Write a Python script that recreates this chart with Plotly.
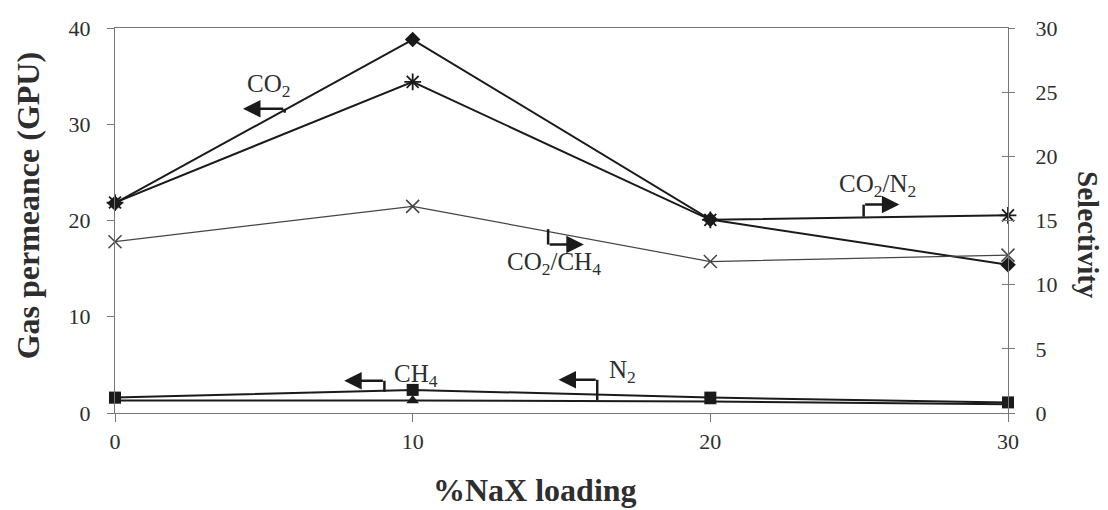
import plotly.graph_objects as go

# NaX loading (%)
loading = [0, 10, 20, 30]

# Gas permeance (GPU), left axis
perm_co2 = [21.8, 38.8, 20.1, 15.4]
perm_ch4 = [1.6, 2.4, 1.6, 1.1]
perm_n2 = [1.3, 1.3, 1.2, 0.9]

# Ideal selectivity, right axis
sel_co2_ch4 = [13.35, 16.1, 11.8, 12.3]
sel_co2_n2 = [16.4, 25.8, 15.05, 15.4]

left_ticks = [0, 10, 20, 30, 40]
right_ticks = [0, 5, 10, 15, 20, 25, 30]
x_ticks = [0, 10, 20, 30]

SERIF = "Liberation Serif, Times New Roman, serif"
INK = "#1a1a1a"
TXT = "#2e2e2e"
AXIS = "#777777"

fig = go.Figure()

fig.add_trace(go.Scatter(
    x=loading, y=perm_co2, name="CO2", mode="lines+markers",
    line=dict(color=INK, width=2),
    marker=dict(symbol="diamond", size=12, color=INK),
    cliponaxis=False))
fig.add_trace(go.Scatter(
    x=loading, y=perm_ch4, name="CH4", mode="lines+markers",
    line=dict(color=INK, width=2),
    marker=dict(symbol="square", size=12, color=INK),
    cliponaxis=False))
fig.add_trace(go.Scatter(
    x=loading, y=perm_n2, name="N2", mode="lines+markers",
    line=dict(color=INK, width=2),
    marker=dict(symbol="triangle-up", size=11, color=INK),
    cliponaxis=False))
fig.add_trace(go.Scatter(
    x=loading, y=sel_co2_ch4, name="CO2/CH4", mode="lines+markers", yaxis="y2",
    line=dict(color="#444444", width=1.2),
    marker=dict(symbol="x-thin-open", size=13, color="#444444",
                line=dict(width=1.5, color="#444444")),
    cliponaxis=False))
fig.add_trace(go.Scatter(
    x=loading, y=sel_co2_n2, name="CO2/N2", mode="lines+markers", yaxis="y2",
    line=dict(color=INK, width=2),
    marker=dict(symbol="asterisk-open", size=14, color=INK,
                line=dict(width=1.8, color=INK)),
    cliponaxis=False))

# Series labels with bent arrows pointing to the axis each series is read on
labels = [
    # text, text x, text y (left-axis units)
    ("CO<sub>2</sub>", 5.15, 34.0),
    ("CO<sub>2</sub>/N<sub>2</sub>", 25.6, 23.6),
    ("CO<sub>2</sub>/CH<sub>4</sub>", 14.75, 15.5),
    ("CH<sub>4</sub>", 10.1, 3.9),
    ("N<sub>2</sub>", 17.05, 4.3),
]
# arrow: stem foot (x, y), elbow y, head x
arrows = [
    (5.7, 31.2, 31.6, 4.3),
    (25.15, 20.4, 21.65, 26.35),
    (14.55, 19.1, 17.5, 15.75),
    (9.05, 2.2, 3.35, 7.7),
    (16.2, 1.35, 3.45, 14.9),
]

annotations = []
for txt, tx, ty in labels:
    annotations.append(dict(x=tx, y=ty, xref="x", yref="y", text=txt,
                            showarrow=False,
                            font=dict(family=SERIF, size=25, color=TXT)))
shapes = []
for sx, sy, ey, hx in arrows:
    shapes.append(dict(type="line", xref="x", yref="y", x0=sx, y0=sy, x1=sx, y1=ey,
                       line=dict(color=INK, width=2.5)))
    annotations.append(dict(x=hx, y=ey, ax=sx, ay=ey, xref="x", yref="y",
                            axref="x", ayref="y", text="", showarrow=True,
                            arrowhead=2, arrowsize=1.4, arrowwidth=2.5,
                            arrowcolor=INK, standoff=0, startstandoff=0))

# Axis titles
annotations.append(dict(x=0.47, y=-0.2, xref="paper", yref="paper",
                        xanchor="center", yanchor="middle",
                        text="<b>%NaX loading</b>", showarrow=False,
                        font=dict(family=SERIF, size=32, color=TXT)))
annotations.append(dict(x=-0.098, y=0.538, xref="paper", yref="paper",
                        xanchor="center", yanchor="middle",
                        text="<b>Gas permeance (GPU)</b>", showarrow=False, textangle=-90,
                        font=dict(family=SERIF, size=32, color=TXT)))
annotations.append(dict(x=1.0896, y=0.462, xref="paper", yref="paper",
                        xanchor="center", yanchor="middle",
                        text="<b>Selectivity</b>", showarrow=False, textangle=90,
                        font=dict(family=SERIF, size=29, color=TXT)))

fig.update_layout(
    width=1108, height=510,
    margin=dict(l=115, r=100, t=28, b=97),
    paper_bgcolor="white", plot_bgcolor="white",
    showlegend=False,
    font=dict(family=SERIF, color=TXT),
    xaxis=dict(range=[0, 30], tickvals=x_ticks, ticks="outside", ticklen=8,
               tickcolor=AXIS, showline=True, linecolor=AXIS, linewidth=1.2,
               mirror=True, showgrid=False, zeroline=False,
               tickfont=dict(family=SERIF, size=22, color=TXT)),
    yaxis=dict(range=[0, 40], tickvals=left_ticks, ticks="outside", ticklen=7,
               tickcolor=AXIS, showline=True, linecolor=AXIS, linewidth=1.2,
               showgrid=False, zeroline=False, ticklabelstandoff=12,
               tickfont=dict(family=SERIF, size=22, color=TXT)),
    yaxis2=dict(range=[0, 30], tickvals=right_ticks, ticks="outside", ticklen=6,
                tickcolor=AXIS, showline=True, linecolor=AXIS, linewidth=1.2,
                overlaying="y", side="right", anchor="x", showgrid=False,
                zeroline=False, ticklabelstandoff=16,
                tickfont=dict(family=SERIF, size=22, color=TXT)),
    yaxis3=dict(range=[0, 30], tickvals=right_ticks, ticks="inside", ticklen=6,
                tickcolor=AXIS, overlaying="y", side="right", anchor="x",
                showline=False, showgrid=False, zeroline=False,
                showticklabels=False),
    annotations=annotations,
    shapes=shapes,
)

# empty trace so the inner tick axis is drawn
fig.add_trace(go.Scatter(x=[None], y=[None], yaxis="y3", showlegend=False,
                         hoverinfo="skip"))

fig.write_html("out.html")
